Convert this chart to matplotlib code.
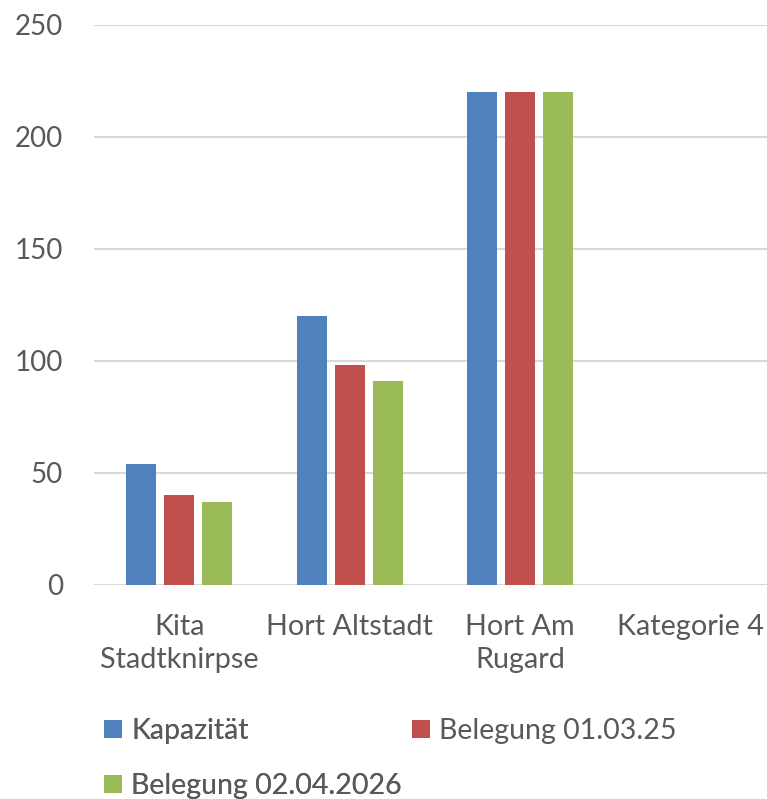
import matplotlib
matplotlib.use("Agg")
import matplotlib.pyplot as plt
from matplotlib.patches import Patch
import numpy as np

categories = ["Kita\nStadtknirpse", "Hort Altstadt", "Hort Am\nRugard", "Kategorie 4"]
series_names = ["Kapazität", "Belegung 01.03.25", "Belegung 02.04.2026"]
kapazitaet = [54, 120, 220, 0]
belegung_2025 = [40, 98, 220, 0]
belegung_2026 = [37, 91, 220, 0]
y_ticks = [0, 50, 100, 150, 200, 250]

colors = ["#4F81BD", "#C0504D", "#9BBB59"]
text_color = "#595959"
grid_color = "#D9D9D9"
fs = 20
fs_x = 20.7
fs_leg = 20.5

plt.rcParams['font.family'] = ['Lato', 'DejaVu Sans']

W, H = 767, 799
fig = plt.figure(figsize=(W / 100, H / 100), dpi=100)
left, right = 94 / W, 776 / W
bottom, top = (H - 584.7) / H, (H - 24.7) / H
ax = fig.add_axes([left, bottom, right - left, top - bottom])

x = np.arange(len(categories))
width = 0.176
offset = 0.223
all_series = [kapazitaet, belegung_2025, belegung_2026]
handles = []
for i, (vals, name, c) in enumerate(zip(all_series, series_names, colors)):
    ax.bar(x + (i - 1) * offset, vals, width, color=c, label=name, zorder=3)
    handles.append(Patch(facecolor=c, label=name))

ax.set_xlim(-0.5, len(categories) - 0.5)
ax.set_ylim(0, 250)
ax.set_yticks(y_ticks)
ax.set_yticklabels([str(t) for t in y_ticks])
ax.set_xticks(x)
ax.set_xticklabels(categories, linespacing=1.33)
ax.tick_params(axis='both', length=0, colors=text_color)
ax.tick_params(axis='y', pad=31 * 0.72, labelsize=fs)
ax.tick_params(axis='x', pad=29 * 0.72, labelsize=fs_x)
for lbl in ax.get_xticklabels():
    lbl.set_verticalalignment('top')
ax.grid(axis='y', color=grid_color, linewidth=1.5, zorder=0)
for s in ax.spines.values():
    s.set_visible(False)

leg_kw = dict(loc='upper left', frameon=False, fontsize=fs_leg, labelcolor=text_color,
              handlelength=0.63, handleheight=0.63, handletextpad=0.32,
              labelspacing=1.02, borderaxespad=0, borderpad=0)
leg1 = fig.legend(handles=[handles[0], handles[2]], ncol=1,
                  bbox_to_anchor=(104 / W, 1 - 718 / H), **leg_kw)
fig.add_artist(leg1)
leg2 = fig.legend(handles=[handles[1]], ncol=1,
                  bbox_to_anchor=(412 / W, 1 - 718 / H), **leg_kw)

fig.savefig("out.png", dpi=100, facecolor="white")
